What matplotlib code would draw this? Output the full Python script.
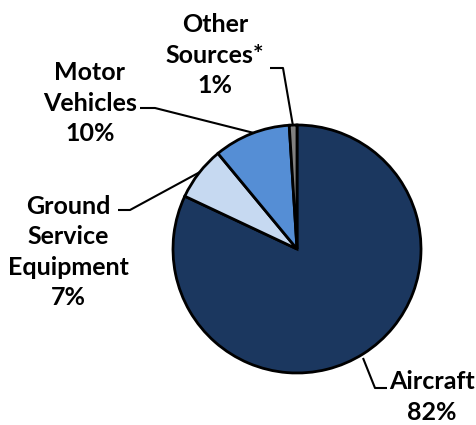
import matplotlib.pyplot as plt

labels = ["Aircraft", "Ground\nService\nEquipment", "Motor\nVehicles", "Other\nSources*"]
shares = [82, 7, 10, 1]
colors = ["#1b375f", "#c6d9f1", "#558ed5", "#808080"]

H = 425


def flip(y):
    return H - y


fig = plt.figure(figsize=(4.77, 4.25), dpi=100)
ax = fig.add_axes([0, 0, 1, 1])

ax.pie(shares, colors=colors, startangle=90, counterclock=False,
       center=(297, flip(249)), radius=124, frame=True,
       wedgeprops=dict(edgecolor="black", linewidth=2))
ax.set_xlim(0, 477)
ax.set_ylim(0, H)
ax.set_aspect("equal")
ax.axis("off")

font = dict(family=["Lato", "DejaVu Sans"], fontweight="bold", fontsize=18,
            ha="center", va="center", linespacing=1.4)

# label text positions and leader lines (pixel coords from top)
label_pos = [(432, 397), (68, 252), (90, 103), (215, 55)]
leaders = [
    [(387, 388), (375, 388), (363, 358)],
    [(118, 210), (130, 210), (200, 172)],
    [(140, 108), (155, 108), (254, 133)],
    [(270, 68), (283, 68), (293, 126)],
]

for lab, val, (tx, ty), pts in zip(labels, shares, label_pos, leaders):
    ax.text(tx, flip(ty), f"{lab}\n{val}%", **font)
    ax.plot([p[0] for p in pts], [flip(p[1]) for p in pts],
            color="black", linewidth=1.5, solid_capstyle="butt")

fig.savefig("out.png", dpi=100)
